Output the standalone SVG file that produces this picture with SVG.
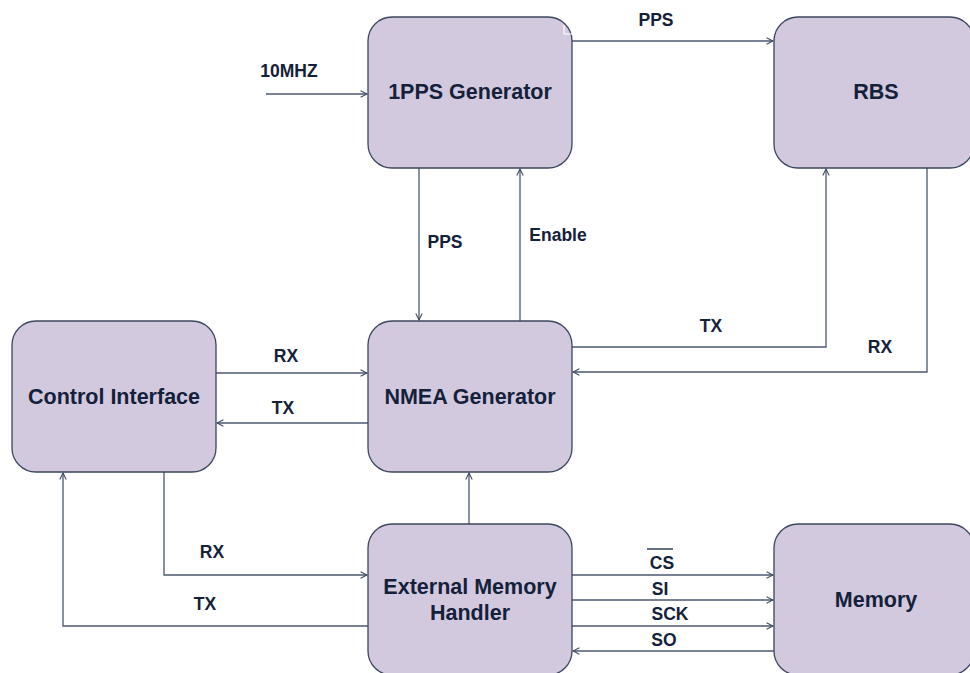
<svg xmlns="http://www.w3.org/2000/svg" width="970" height="673" viewBox="0 0 970 673">
  <style>
    .box { fill: #d3c9df; stroke: #3b475d; stroke-width: 1.3; }
    .title { font-family: "Liberation Sans", Arial, sans-serif; font-weight: bold; font-size: 21.5px; fill: #14213a; text-anchor: middle; }
    .lbl { font-family: "Liberation Sans", Arial, sans-serif; font-weight: bold; font-size: 17.5px; fill: #14213a; text-anchor: middle; }
    .wire { fill: none; stroke: #4b5870; stroke-width: 1.3; }
  </style>
  <defs>
    <marker id="arr" viewBox="0 0 10 10" refX="9" refY="5" markerWidth="8" markerHeight="8" markerUnits="userSpaceOnUse" orient="auto">
      <path d="M1,1 L9,5 L1,9" fill="none" stroke="#3b475d" stroke-width="1.3"/>
    </marker>
  </defs>
  <rect width="970" height="673" fill="#ffffff"/>

  <g id="connectors">
    <!-- 10 MHz reference in -->
    <path class="wire" d="M266,94 H367" marker-end="url(#arr)"/>
    <!-- 1PPS to RBS -->
    <path class="wire" d="M572,41 H773" marker-end="url(#arr)"/>
    <!-- 1PPS down to NMEA -->
    <path class="wire" d="M419,168 V320" marker-end="url(#arr)"/>
    <!-- Enable up to 1PPS -->
    <path class="wire" d="M520,321 V169" marker-end="url(#arr)"/>
    <!-- NMEA TX to RBS -->
    <path class="wire" d="M572,347 H826 V169" marker-end="url(#arr)"/>
    <!-- RBS RX to NMEA -->
    <path class="wire" d="M927,168 V372 H573" marker-end="url(#arr)"/>
    <!-- Control Interface <-> NMEA -->
    <path class="wire" d="M216,373 H367" marker-end="url(#arr)"/>
    <path class="wire" d="M368,423 H217" marker-end="url(#arr)"/>
    <!-- External Memory Handler up to NMEA -->
    <path class="wire" d="M469,524 V473" marker-end="url(#arr)"/>
    <!-- Control Interface <-> External Memory Handler -->
    <path class="wire" d="M164,472 V575 H367" marker-end="url(#arr)"/>
    <path class="wire" d="M368,626 H63 V473" marker-end="url(#arr)"/>
    <!-- SPI bus -->
    <path class="wire" d="M572,575 H773" marker-end="url(#arr)"/>
    <path class="wire" d="M572,600 H773" marker-end="url(#arr)"/>
    <path class="wire" d="M572,626 H773" marker-end="url(#arr)"/>
    <path class="wire" d="M774,651 H573" marker-end="url(#arr)"/>
  </g>

  <g id="pps-gen">
    <rect class="box" x="368" y="17" width="204" height="151" rx="24"/>
    <polyline points="564,25 564,34 572,34" fill="none" stroke="#ffffff" stroke-width="1.2"/>
    <text class="title" x="470" y="99">1PPS Generator</text>
  </g>
  <g id="rbs">
    <rect class="box" x="774" y="17" width="200" height="151" rx="24"/>
    <text class="title" x="876" y="99">RBS</text>
  </g>
  <g id="control-interface">
    <rect class="box" x="12" y="321" width="204" height="151" rx="24"/>
    <text class="title" x="114" y="404">Control Interface</text>
  </g>
  <g id="nmea-gen">
    <rect class="box" x="368" y="321" width="204" height="151" rx="24"/>
    <text class="title" x="470" y="404">NMEA Generator</text>
  </g>
  <g id="ext-mem-handler">
    <rect class="box" x="368" y="524" width="204" height="151" rx="24"/>
    <text class="title" x="470" y="594">External Memory</text>
    <text class="title" x="470" y="620">Handler</text>
  </g>
  <g id="memory">
    <rect class="box" x="774" y="524" width="200" height="151" rx="24"/>
    <text class="title" x="876" y="607">Memory</text>
  </g>

  <g id="labels">
    <text class="lbl" x="289" y="77">10MHZ</text>
    <text class="lbl" x="656" y="26">PPS</text>
    <text class="lbl" x="445" y="248">PPS</text>
    <text class="lbl" x="558" y="241">Enable</text>
    <text class="lbl" x="711" y="332">TX</text>
    <text class="lbl" x="880" y="353">RX</text>
    <text class="lbl" x="286" y="362">RX</text>
    <text class="lbl" x="283" y="414">TX</text>
    <text class="lbl" x="212" y="558">RX</text>
    <text class="lbl" x="205" y="610">TX</text>
    <text class="lbl" x="662" y="569">CS</text>
    <line x1="647" y1="549" x2="673" y2="549" stroke="#14213a" stroke-width="1.3"/>
    <text class="lbl" x="660" y="595">SI</text>
    <text class="lbl" x="670" y="620">SCK</text>
    <text class="lbl" x="664" y="646">SO</text>
  </g>
</svg>
